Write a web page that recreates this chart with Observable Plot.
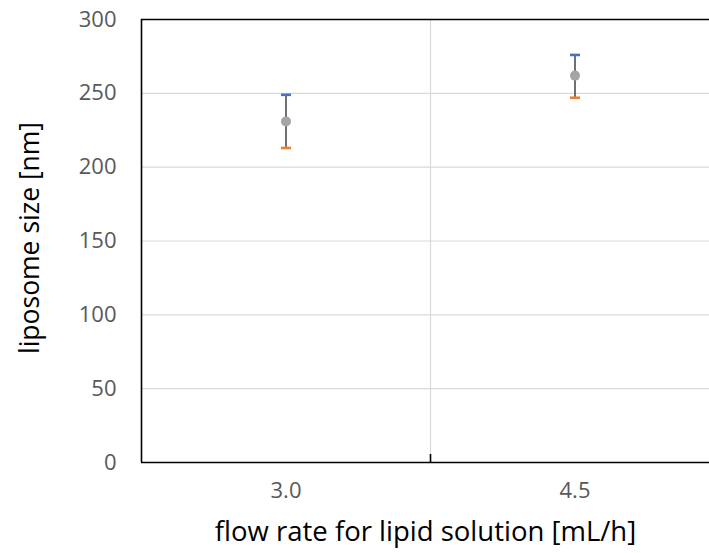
<!DOCTYPE html>
<html>
<head>
<meta charset="utf-8">
<script src="https://cdn.jsdelivr.net/npm/d3@7"></script>
<script src="https://cdn.jsdelivr.net/npm/@observablehq/plot@0.6"></script>
<style>
  html, body { margin: 0; padding: 0; background: #fff; }
  #chart { width: 709px; height: 553px; }
</style>
</head>
<body>
<div id="chart"></div>
<script>
const categories = ["3.0", "4.5"];
const upperValues = [249, 276];
const meanValues = [231, 262];
const lowerValues = [213, 247];
const yTicks = [0, 50, 100, 150, 200, 250, 300];
const xTitle = "flow rate for lipid solution [mL/h]";
const yTitle = "liposome size [nm]";

const data = categories.map((c, i) => ({
  pos: i + 0.5,
  cat: c,
  upper: upperValues[i],
  mean: meanValues[i],
  lower: lowerValues[i]
}));

const font = "'Open Sans', 'DejaVu Sans', sans-serif";

// horizontal-line symbol for error-bar caps
const capSymbol = {
  draw(context, size) {
    const r = Math.sqrt(size / Math.PI);
    context.moveTo(-r, 0);
    context.lineTo(r, 0);
  }
};

const chart = Plot.plot({
  width: 709,
  height: 553,
  marginLeft: 141,
  marginRight: 0,
  marginTop: 19,
  marginBottom: 91,
  style: { fontFamily: font, background: "#fff" },
  x: { type: "linear", domain: [0, categories.length], range: [141, 719] },
  y: { type: "linear", domain: [0, 300] },
  marks: [
    Plot.ruleY(yTicks.filter(t => t > 0 && t < 300), { stroke: "#d9d9d9", strokeWidth: 1.2 }),
    Plot.ruleX(d3.range(1, categories.length), { y1: 0, y2: 300, stroke: "#d9d9d9", strokeWidth: 1.2 }),
    Plot.ruleY([0, 300], { stroke: "#000", strokeWidth: 1.6 }),
    Plot.ruleX([0], { y1: 0, y2: 300, stroke: "#000", strokeWidth: 1.6 }),
    Plot.ruleX(d3.range(1, categories.length), { y1: 0, y2: 5.4, stroke: "#000", strokeWidth: 1.6 }),
    Plot.axisY({
      ticks: yTicks, tickSize: 0, tickPadding: 25, fontSize: 22,
      color: "#595959", label: null, fontFamily: font
    }),
    Plot.axisX({
      ticks: data.map(d => d.pos), tickFormat: (d) => categories[Math.floor(d)],
      tickSize: 0, tickPadding: 20, fontSize: 22, color: "#595959", label: null, fontFamily: font
    }),
    Plot.ruleX(data, { x: "pos", y1: "lower", y2: "upper", stroke: "#4d4d4d", strokeWidth: 1.6 }),
    Plot.dot(data, { x: "pos", y: "upper", symbol: capSymbol, r: 5, fill: "none", stroke: "#4472C4", strokeWidth: 2.6 }),
    Plot.dot(data, { x: "pos", y: "lower", symbol: capSymbol, r: 5, fill: "none", stroke: "#ED7D31", strokeWidth: 2.6 }),
    Plot.dot(data, { x: "pos", y: "mean", r: 5, fill: "#A5A5A5", stroke: null }),
    Plot.text([xTitle], {
      frameAnchor: "bottom", dy: 78, fontSize: 27.5, fill: "#000", fontFamily: font, textAnchor: "middle"
    }),
    Plot.text([yTitle], {
      frameAnchor: "left", dx: -111, dy: -3, rotate: -90, fontSize: 26.5, fill: "#000", fontFamily: font, textAnchor: "middle"
    })
  ]
});

document.getElementById("chart").appendChild(chart);
</script>
</body>
</html>
